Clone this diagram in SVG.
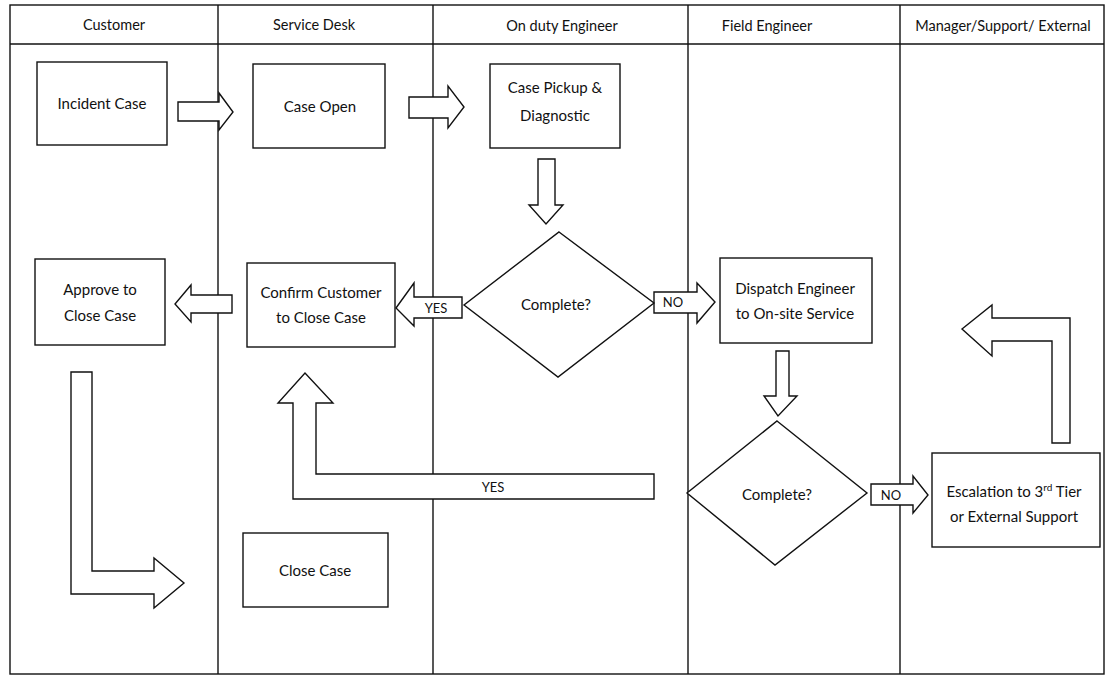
<svg xmlns="http://www.w3.org/2000/svg" width="1107" height="682" viewBox="0 0 1107 682">
<style>
.lane{fill:none;stroke:#111;stroke-width:1.4}
.box{fill:#fff;stroke:#111;stroke-width:1.4}
.arr{fill:#fff;stroke:#111;stroke-width:1.4;stroke-linejoin:miter}
text{font-family:Lato,"Liberation Sans",sans-serif;font-size:15px;fill:#111;text-anchor:middle}
.hdr{font-size:14.5px}
.lbl{font-size:13px}
</style>
<rect width="1107" height="682" fill="#fff"/>
<g id="lanes">
<rect class="lane" x="10" y="5" width="1094" height="669"/>
<line class="lane" x1="10" y1="44" x2="1104" y2="44"/>
<line class="lane" x1="218" y1="5" x2="218" y2="674"/>
<line class="lane" x1="433" y1="5" x2="433" y2="674"/>
<line class="lane" x1="688" y1="5" x2="688" y2="674"/>
<line class="lane" x1="900" y1="5" x2="900" y2="674"/>
<text class="hdr" x="114" y="30">Customer</text>
<text class="hdr" x="314" y="30">Service Desk</text>
<text class="hdr" x="562" y="31">On duty Engineer</text>
<text class="hdr" x="767" y="31">Field Engineer</text>
<text class="hdr" x="1003" y="31">Manager/Support/ External</text>
</g>
<g id="connectors">
<polygon class="arr" points="178,102 219,102 219,93 233,112 219,130 219,121 178,121"/>
<polygon class="arr" points="409,97 448,97 448,86 464,107 448,128 448,118 409,118"/>
<polygon class="arr" points="538,159 555,159 555,205 563,205 546,224 529,205 538,205"/>
<polygon class="arr" points="462,297 414,297 414,283 396,308 414,326 414,318 462,318"/>
<text class="lbl" x="436" y="313">YES</text>
<polygon class="arr" points="232,295 191,295 191,285 175,304 191,322 191,313 232,313"/>
<polygon class="arr" points="654,292 697,292 697,283 715,302 697,323 697,313 654,313"/>
<text class="lbl" x="673" y="307">NO</text>
<polygon class="arr" points="776,351 789,351 789,396 797,396 778,416 764,396 776,396"/>
<polygon class="arr" points="871,484 913,484 913,476 928,495 913,513 913,505 871,505"/>
<text class="lbl" x="891" y="500">NO</text>
<polygon class="arr" points="1052,443 1052,341 992,341 992,356 962,329 992,305 992,318 1070,318 1070,443"/>
<polygon class="arr" points="71,372 92,372 92,571 154,571 154,558 184,583 154,608 154,594 71,594"/>
<polygon class="arr" points="654,474 316,474 316,403 333,403 305,373 278,403 293,403 293,499 654,499"/>
<text class="lbl" x="493" y="492">YES</text>
</g>
<g id="incident-case">
<rect class="box" x="37" y="62" width="130" height="83"/>
<text x="102" y="109">Incident Case</text>
</g>
<g id="case-open">
<rect class="box" x="253" y="64" width="132" height="84"/>
<text x="320" y="112">Case Open</text>
</g>
<g id="case-pickup">
<rect class="box" x="490" y="64" width="130" height="84"/>
<text x="555" y="93">Case Pickup &amp;</text>
<text x="555" y="121">Diagnostic</text>
</g>
<g id="complete-1">
<polygon class="box" points="559,232 654,303 558,377 464,305"/>
<text x="556" y="310">Complete?</text>
</g>
<g id="confirm-customer">
<rect class="box" x="247" y="263" width="148" height="84"/>
<text x="321" y="298">Confirm Customer</text>
<text x="321" y="323">to Close Case</text>
</g>
<g id="approve-close">
<rect class="box" x="35" y="259" width="130" height="86"/>
<text x="100" y="295">Approve to</text>
<text x="100" y="321">Close Case</text>
</g>
<g id="dispatch-engineer">
<rect class="box" x="720" y="258" width="152" height="85"/>
<text x="795" y="294">Dispatch Engineer</text>
<text x="795" y="319">to On-site Service</text>
</g>
<g id="complete-2">
<polygon class="box" points="777,421 867,493 775,565 687,493"/>
<text x="777" y="500">Complete?</text>
</g>
<g id="escalation">
<rect class="box" x="932" y="453" width="168" height="94"/>
<text x="1014" y="497">Escalation to 3<tspan font-size="10" baseline-shift="super">rd</tspan> Tier</text>
<text x="1014" y="522">or External Support</text>
</g>
<g id="close-case">
<rect class="box" x="243" y="533" width="145" height="74"/>
<text x="315" y="576">Close Case</text>
</g>
</svg>
